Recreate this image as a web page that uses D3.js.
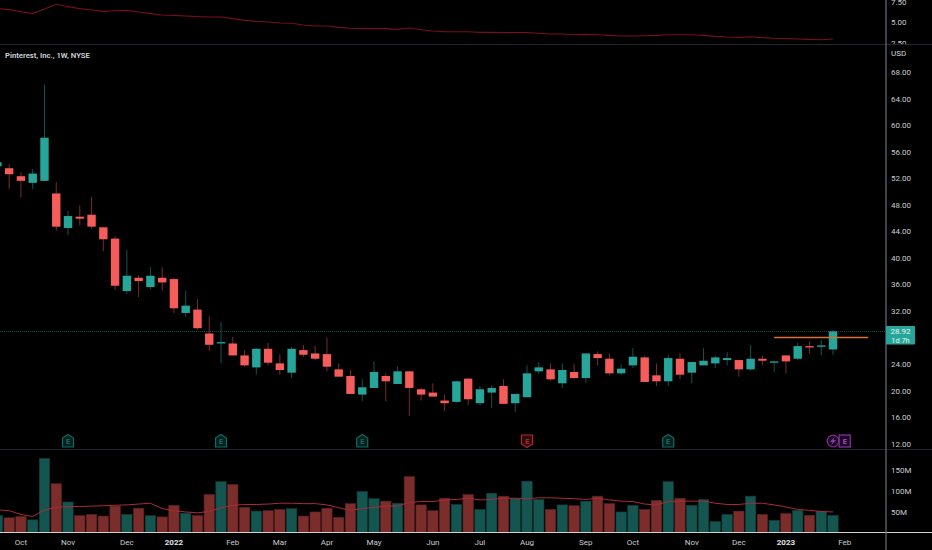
<!DOCTYPE html>
<html>
<head>
<meta charset="utf-8">
<script src="https://cdn.jsdelivr.net/npm/d3@7"></script>
<style>
  html, body { margin: 0; padding: 0; background: #000; overflow: hidden; }
  svg { display: block; }
  text { font-family: Roboto, sans-serif; }
</style>
</head>
<body>
<svg id="chart" width="932" height="550"></svg>
<script>
// weekly candles
var opens = [53.8,53.5,52.3,51.3,51.6,49.7,44.5,46.2,46.5,44.6,42.9,35.0,37.0,35.6,37.0,36.8,31.7,32.2,28.6,27.1,27.1,25.3,23.5,26.3,24.1,22.7,26.1,25.6,25.5,23.2,22.2,19.4,20.4,22.2,21.0,22.9,20.2,19.7,18.5,18.3,21.8,18.1,19.7,20.7,18.1,19.0,22.9,23.2,21.1,22.8,21.9,25.5,24.8,22.6,23.8,25.0,22.3,21.4,24.8,22.7,23.8,24.1,24.6,24.6,23.2,24.8,24.2,25.3,24.8,26.7,26.6,26.2];
var highs = [54.6,54.1,52.9,53.4,66.1,51.4,47.1,47.9,49.2,44.6,43.3,41.2,37.4,38.6,38.6,37.0,35.0,33.8,31.2,30.3,28.1,26.1,26.4,27.2,25.5,26.6,26.9,26.8,28.0,24.1,23.1,21.7,24.4,22.6,23.6,22.9,20.4,21.1,19.4,21.5,21.9,20.7,20.8,21.7,19.5,23.8,24.3,24.1,24.1,24.0,25.6,25.9,25.6,24.0,26.4,25.3,24.1,25.3,25.6,24.3,26.4,25.3,25.8,24.7,26.9,25.3,24.4,25.3,27.2,27.4,27.6,29.1];
var lows = [53.2,50.4,49.1,50.4,51.6,44.1,43.4,44.9,44.4,41.0,35.2,34.6,34.1,35.3,35.1,31.7,31.1,29.2,26.0,24.1,25.3,23.6,22.4,23.8,22.4,21.9,25.1,24.6,22.9,22.1,19.5,18.4,20.4,18.4,21.0,16.2,18.5,19.1,16.9,18.2,17.8,17.8,17.4,18.0,16.8,19.0,22.5,21.5,20.4,21.7,21.2,23.8,22.3,22.3,23.4,21.3,20.7,20.7,21.7,21.1,23.8,23.4,23.8,22.1,23.0,23.8,22.8,22.6,24.6,25.6,25.3,25.4];
var closes = [54.4,52.6,51.6,52.7,58.1,44.7,46.3,45.9,44.7,42.8,35.8,37.3,36.5,37.3,36.3,32.4,32.8,29.4,26.9,27.3,25.3,23.8,26.3,24.2,23.1,26.3,25.4,24.8,23.6,22.1,19.5,20.5,22.8,21.4,22.9,20.4,19.4,19.1,18.1,21.4,18.7,20.2,20.4,18.0,19.5,22.6,23.5,21.7,23.1,21.9,25.6,24.9,22.6,23.3,25.1,21.3,21.4,24.9,22.4,24.3,24.5,25.0,24.9,23.2,24.8,24.5,24.4,24.4,26.7,26.5,26.8,28.92];

// volume in millions, and its moving average
var volumes = [40,35,38,30,178,117,73,40,43,39,63,43,58,40,37,65,46,40,91,122,115,60,51,52,55,57,39,49,58,36,69,98,81,75,70,134,66,52,82,67,91,55,94,87,81,123,79,55,66,64,75,87,69,49,65,55,77,122,82,65,79,26,43,51,87,43,29,45,53,41,51,41];
var volumeAvg = [54,52,43,38,54,60,62,62,63,64,65,66,68,70,57,52,49,47,50,59,65,67,67,68,70,70,69,69,66,59,53,57,60,63,63,72,74,74,78,79,82,78,79,82,82,81,83,83,82,81,79,82,78,75,74,68,66,74,75,75,75,70,67,67,70,70,66,61,55,53,50,49];

// ratio line in the clipped pane on top
var ratio = [6.63,6.51,6.26,6.02,6.59,7.16,6.87,6.63,6.47,6.30,6.38,6.42,6.22,6.02,5.85,5.81,5.73,5.65,5.61,5.61,5.41,5.20,5.08,5.00,4.88,4.84,4.63,4.51,4.51,4.35,4.23,4.19,4.19,4.19,4.10,4.27,4.06,3.90,3.82,3.82,3.82,3.74,3.74,3.70,3.70,3.70,3.62,3.53,3.53,3.45,3.49,3.45,3.37,3.29,3.29,3.33,3.37,3.45,3.45,3.45,3.37,3.25,3.17,3.13,3.21,3.09,3.01,2.97,2.92,2.88,2.84,2.92];

// 28.00 sits under the last price tag
var priceTicks = [12,16,20,24,32,36,40,44,48,52,56,60,64,68];
var ratioTicks = [2.5,5,7.5];
var volumeTicks = [50,100,150];
var monthIdx = [2,6,11,15,20,24,28,32,37,41,45,50,54,59,63,67,72];
var monthLabels = ['Oct','Nov','Dec','2022','Feb','Mar','Apr','May','Jun','Jul','Aug','Sep','Oct','Nov','Dec','2023','Feb'];
var earningsIdx = [6,19,31,45,57];
var earningsBeat = [true,true,true,false,true];
var levelIdx = [66,74];
var levelPrice = 28.0;

var UP = '#26a69a', DOWN = '#f55c5a';
var UP_WICK = '#0f5650', DOWN_WICK = '#7a2c2c';
var UP_VOL = '#14564f', DOWN_VOL = '#7b2d2c';
var TEXT = '#c8cbd3';
var axisX = 886;
var FONT = 8;

var x = d3.scaleLinear().domain([0,71]).range([-2.6,833]);
var yPrice = d3.scaleLinear().domain([12,68]).range([443.7,72]);
var yVol = d3.scaleLinear().domain([0,150]).range([532.3,470]);
var yRatio = d3.scaleLinear().domain([2.5,5]).range([42.5,22]);

var svg = d3.select('#chart');
var idx = d3.range(opens.length);
function isUp(i){ return closes[i] >= opens[i]; }

svg.append('rect').attr('width',932).attr('height',550).attr('fill','#000');

svg.append('clipPath').attr('id','topClip').append('rect')
    .attr('width',932).attr('height',44);

// pane separators
svg.selectAll('.sep').data([44,449]).enter().append('line')
    .attr('x1',0).attr('x2',932).attr('y1',function(d){ return d+0.5; }).attr('y2',function(d){ return d+0.5; })
    .attr('stroke','#23262e');

// top pane line
svg.append('path').datum(ratio)
    .attr('fill','none').attr('stroke','#74101c').attr('stroke-width',1.1)
    .attr('d', d3.line().x(function(d,i){ return x(i); }).y(function(d){ return yRatio(d); }));

// current price line
svg.append('line').attr('x1',0).attr('x2',axisX)
    .attr('y1',yPrice(28.92)).attr('y2',yPrice(28.92))
    .attr('stroke','#14524c').attr('stroke-dasharray','1,1');

// volume bars
svg.selectAll('.vol').data(idx).enter().append('rect')
    .attr('x',function(i){ return x(i)-5.2; })
    .attr('width',10.4)
    .attr('y',function(i){ return yVol(volumes[i]); })
    .attr('height',function(i){ return yVol(0)-yVol(volumes[i]); })
    .attr('fill',function(i){ return isUp(i) ? UP_VOL : DOWN_VOL; })
    .attr('stroke',function(i){ return isUp(i) ? '#0c3d39' : '#5c2120'; })
    .attr('stroke-width',0.6);

svg.append('path').datum(volumeAvg)
    .attr('fill','none').attr('stroke','#a92a38').attr('stroke-width',1)
    .attr('d', d3.line().x(function(d,i){ return x(i); }).y(function(d){ return yVol(d); }));

// wicks then bodies
svg.selectAll('.wick').data(idx).enter().append('line')
    .attr('x1',function(i){ return x(i); }).attr('x2',function(i){ return x(i); })
    .attr('y1',function(i){ return yPrice(highs[i]); })
    .attr('y2',function(i){ return yPrice(lows[i]); })
    .attr('stroke',function(i){ return isUp(i) ? UP_WICK : DOWN_WICK; })
    .attr('stroke-width',1);

svg.selectAll('.body').data(idx).enter().append('rect')
    .attr('x',function(i){ return x(i)-4.2; })
    .attr('width',8.4)
    .attr('y',function(i){ return yPrice(Math.max(opens[i],closes[i])); })
    .attr('height',function(i){ return Math.max(1.2, Math.abs(yPrice(opens[i])-yPrice(closes[i]))); })
    .attr('fill',function(i){ return isUp(i) ? UP : DOWN; });

// drawn level
svg.append('line')
    .attr('x1',x(levelIdx[0])).attr('x2',x(levelIdx[1]))
    .attr('y1',yPrice(levelPrice)).attr('y2',yPrice(levelPrice))
    .attr('stroke','#d9702f').attr('stroke-width',1.4);

// earnings badges
var badge = svg.selectAll('.badge').data(earningsIdx).enter().append('g')
    .attr('transform',function(i){ return 'translate(' + x(i) + ',441)'; });
badge.append('path')
    .attr('d',function(d,k){ return earningsBeat[k] ? 'M-5.5,6V-3L0,-6.5L5.5,-3V6Z' : 'M-5.5,-6V3L0,6.5L5.5,3V-6Z'; })
    .attr('fill',function(d,k){ return earningsBeat[k] ? '#04201e' : '#2a0a0a'; })
    .attr('stroke',function(d,k){ return earningsBeat[k] ? '#0f6b64' : '#b3262c'; })
    .attr('stroke-width',1.2);
badge.append('text').text('E').attr('text-anchor','middle').attr('y',3)
    .attr('font-size',7.5).attr('font-weight',700)
    .attr('fill',function(d,k){ return earningsBeat[k] ? '#0f6b64' : '#b3262c'; });

// upcoming dividend / earnings on the last bars
svg.append('circle').attr('cx',x(71)).attr('cy',441).attr('r',5.8)
    .attr('fill','#1c0a24').attr('stroke','#7b2a93').attr('stroke-width',1.3);
svg.append('path').attr('transform','translate(' + x(71) + ',441)')
    .attr('d','M2,-4.5L-3,1H-0.3L-2,4.5L3,-1H0.3Z').attr('fill','#8d3aa8');
svg.append('rect').attr('x',x(72)-5.6).attr('y',435).attr('width',11.2).attr('height',12)
    .attr('fill','#1c0a24').attr('stroke','#7b2a93').attr('stroke-width',1.4);
svg.append('text').text('E').attr('x',x(72)).attr('y',444).attr('text-anchor','middle')
    .attr('font-size',7.5).attr('font-weight',700).attr('fill','#a04cc0');

// time axis rule and price scale rule
svg.append('line').attr('x1',0).attr('x2',932).attr('y1',532.5).attr('y2',532.5)
    .attr('stroke','#d0d0d0').attr('stroke-width',1);
svg.append('line').attr('x1',axisX).attr('x2',axisX).attr('y1',0).attr('y2',550)
    .attr('stroke','#6f7178').attr('stroke-width',1.2);

// axes
function styleAxis(g){
    g.select('.domain').remove();
    g.selectAll('text').attr('fill',TEXT).attr('font-size',FONT);
}
svg.append('g').attr('transform','translate(' + axisX + ',0)')
    .call(d3.axisRight(yPrice).tickValues(priceTicks).tickFormat(d3.format('.2f')).tickSize(0).tickPadding(5))
    .call(styleAxis);
svg.append('g').attr('clip-path','url(#topClip)').append('g').attr('transform','translate(' + axisX + ',0)')
    .call(d3.axisRight(yRatio).tickValues(ratioTicks).tickFormat(d3.format('.2f')).tickSize(0).tickPadding(5))
    .call(styleAxis);
svg.append('g').attr('transform','translate(' + axisX + ',0)')
    .call(d3.axisRight(yVol).tickValues(volumeTicks).tickFormat(function(d){ return d + 'M'; }).tickSize(0).tickPadding(5))
    .call(styleAxis);

svg.selectAll('.month').data(monthIdx).enter().append('text')
    .attr('x',function(i){ return x(i); }).attr('y',544.5)
    .attr('text-anchor','middle').attr('font-size',FONT)
    .attr('font-weight',function(d,k){ return /^20/.test(monthLabels[k]) ? 700 : 400; })
    .attr('fill',function(d,k){ return /^20/.test(monthLabels[k]) ? '#e0e3eb' : TEXT; })
    .text(function(d,k){ return monthLabels[k]; });

svg.append('text').text('USD').attr('x',891).attr('y',56).attr('font-size',FONT).attr('fill','#d1d4dc');
svg.append('text').text('Pinterest, Inc., 1W, NYSE').attr('x',5).attr('y',57.7)
    .attr('font-size',7.7).attr('font-weight',600).attr('fill','#d1d4dc');

// last price tag
svg.append('rect').attr('x',axisX).attr('y',326).attr('width',29).attr('height',18.6).attr('rx',1).attr('fill',UP);
svg.append('text').text('28.92').attr('x',axisX+14.5).attr('y',333.8).attr('text-anchor','middle').attr('font-size',FONT).attr('fill','#e6f5f3');
svg.append('text').text('1d 7h').attr('x',axisX+14.5).attr('y',343).attr('text-anchor','middle').attr('font-size',7.4).attr('fill','#e6f5f3');
</script>
</body>
</html>
